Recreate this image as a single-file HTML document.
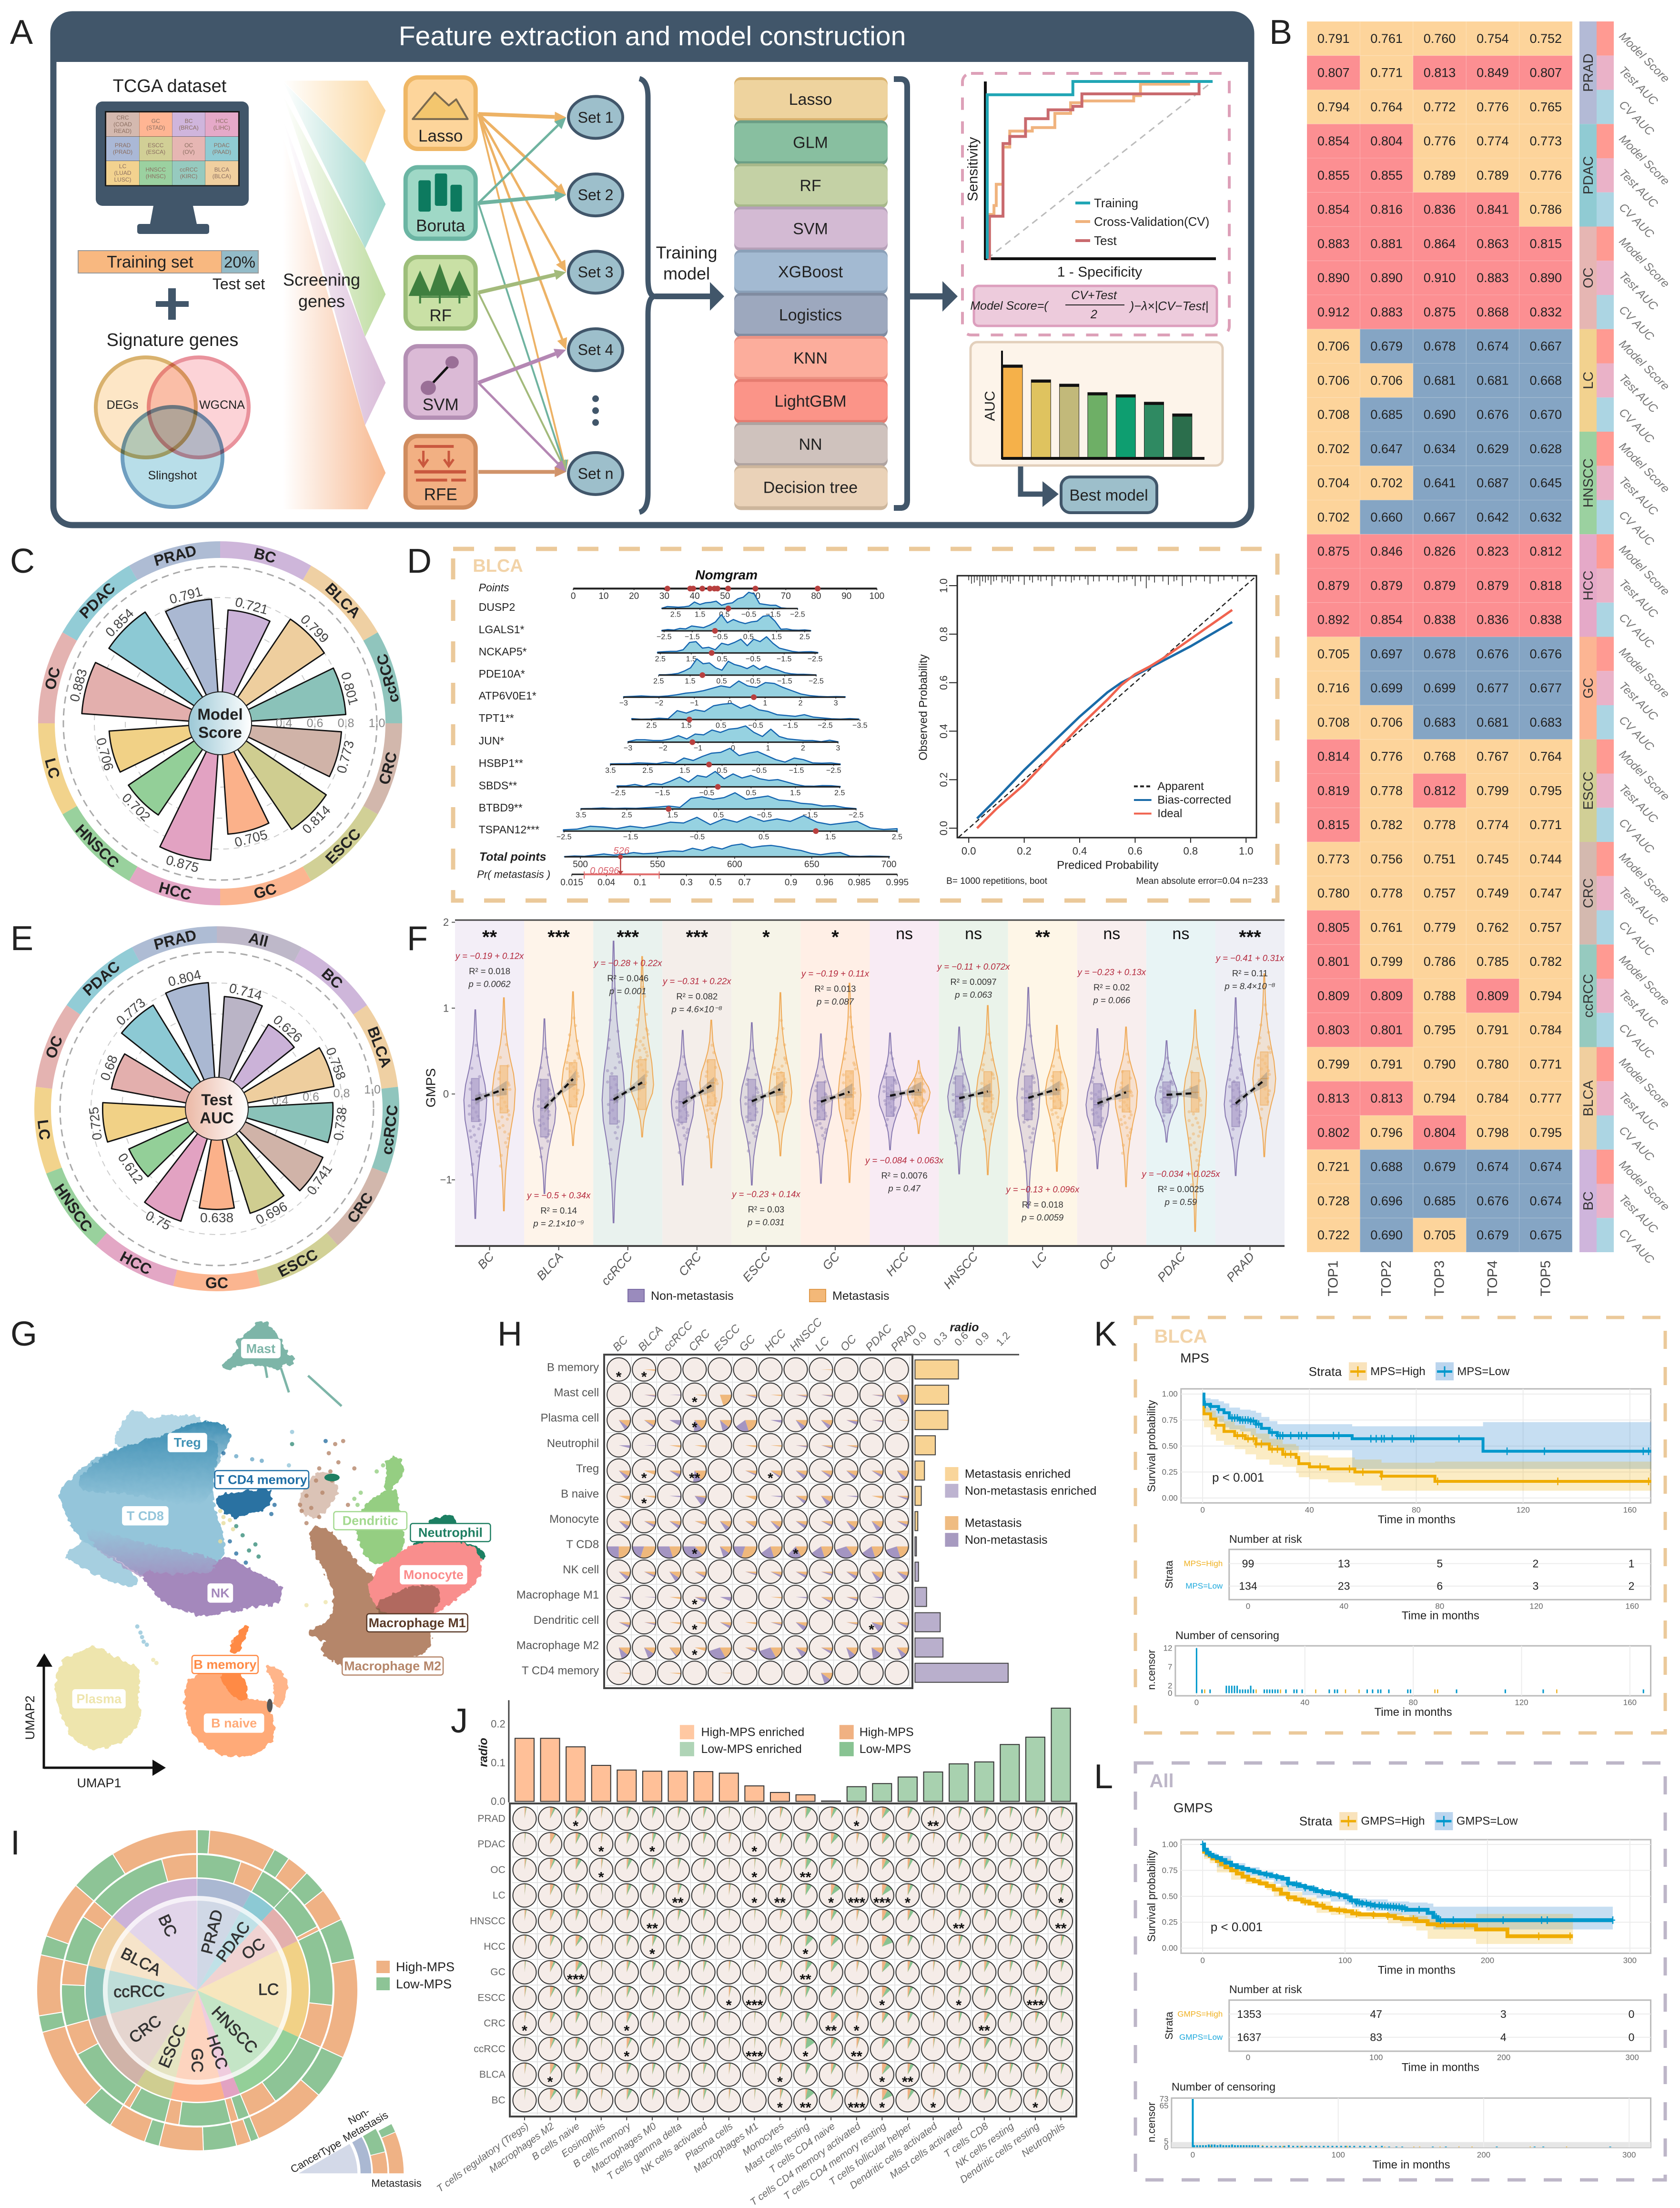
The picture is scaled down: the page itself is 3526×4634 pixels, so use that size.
<!DOCTYPE html>
<html lang="en">
<head>
<meta charset="utf-8">
<title>Feature extraction and model construction figure</title>
<style>
html,body{margin:0;padding:0;background:#fff;}
svg{display:block;}
</style>
</head>
<body>
<svg id="fig" width="3526" height="4634" viewBox="0 0 3526 4634"></svg>
<script>
/* ---------- DATA ---------- */
const heatValues=[[.791,.761,.760,.754,.752],[.807,.771,.813,.849,.807],[.794,.764,.772,.776,.765],[.854,.804,.776,.774,.773],[.855,.855,.789,.789,.776],[.854,.816,.836,.841,.786],[.883,.881,.864,.863,.815],[.890,.890,.910,.883,.890],[.912,.883,.875,.868,.832],[.706,.679,.678,.674,.667],[.706,.706,.681,.681,.668],[.708,.685,.690,.676,.670],[.702,.647,.634,.629,.628],[.704,.702,.641,.687,.645],[.702,.660,.667,.642,.632],[.875,.846,.826,.823,.812],[.879,.879,.879,.879,.818],[.892,.854,.838,.836,.838],[.705,.697,.678,.676,.676],[.716,.699,.699,.677,.677],[.708,.706,.683,.681,.683],[.814,.776,.768,.767,.764],[.819,.778,.812,.799,.795],[.815,.782,.778,.774,.771],[.773,.756,.751,.745,.744],[.780,.778,.757,.749,.747],[.805,.761,.779,.762,.757],[.801,.799,.786,.785,.782],[.809,.809,.788,.809,.794],[.803,.801,.795,.791,.784],[.799,.791,.790,.780,.771],[.813,.813,.794,.784,.777],[.802,.796,.804,.798,.795],[.721,.688,.679,.674,.674],[.728,.696,.685,.676,.674],[.722,.690,.705,.679,.675]];
const heatCancers=['PRAD','PDAC','OC','LC','HNSCC','HCC','GC','ESCC','CRC','ccRCC','BLCA','BC'];
const heatMetrics=['Model Score','Test AUC','CV AUC'];
const heatTops=['TOP1','TOP2','TOP3','TOP4','TOP5'];
const polarCatsC=['BC','BLCA','ccRCC','CRC','ESCC','GC','HCC','HNSCC','LC','OC','PDAC','PRAD'];
const polarValsC=[.721,.799,.801,.773,.814,.705,.875,.702,.706,.883,.854,.791];
const polarCatsE=['All','BC','BLCA','ccRCC','CRC','ESCC','GC','HCC','HNSCC','LC','OC','PDAC','PRAD'];
const polarValsE=[.714,.626,.758,.738,.741,.696,.638,.75,.612,.725,.68,.773,.804];
const polarLabelsE=['0.714','0.626','0.758','0.738','0.741','0.696','0.638','0.75','0.612','0.725','0.68','0.773','0.804'];
const nomLabels=['DUSP2','LGALS1*','NCKAP5*','PDE10A*','ATP6V0E1*','TPT1**','JUN*','HSBP1**','SBDS**','BTBD9**','TSPAN12***'];
const nomTickValues=[[2.5,1.5,.5,-.5,-1.5,-2.5],[-2.5,-1.5,-.5,.5,1.5,2.5],[2.5,1.5,.5,-.5,-1.5,-2.5],[2.5,1.5,.5,-.5,-1.5,-2.5],[-3,-2,-1,0,1,2,3],[2.5,1.5,.5,-.5,-1.5,-2.5,-3.5],[-3,-2,-1,0,1,2,3],[3.5,2.5,1.5,.5,-.5,-1.5,-2.5],[-2.5,-1.5,-.5,.5,1.5,2.5],[3.5,2.5,1.5,.5,-.5,-1.5,-2.5],[-2.5,-1.5,-.5,.5,1.5,2.5]];
const nomPatient=[.34,-.69,.84,1.11,.68,1.41,-1.16,.85,-.25,1.59,1.28];
const nomPointHits=[31,38.5,39.5,42.5,45,46.5,47.5,51,60,80.5];
const nomDensity=[
[.02,.12,.1,.08,.1,.15,.4,.25,.35,.38,.45,.2,.3,.35,.6,.7,1,.9,.3,.25,.2,.2,.04,.01,0,0],
[.03,.08,.05,.15,.12,.3,.25,.2,.35,.55,1,.5,.7,.55,.45,.55,.6,.9,.95,.6,.1,.12,.05,.04,.06,.02],
[.05,.08,.1,.1,.2,.65,.7,.3,.35,.2,.6,.5,.65,.85,.45,.85,.7,1,.6,.3,.2,.1,.05,.07,.08,.03],
[.02,.02,.05,.1,.25,.45,1,.7,.75,.45,.3,.85,.65,.55,.4,.6,.35,.55,.4,.3,.15,.08,.05,.05,.03,.01],
[.03,.05,.08,.05,.04,.08,.15,.25,.3,.4,.55,.7,.6,1,.7,.6,.9,.85,.6,.4,.2,.1,.05,.03,.04,.03],
[.06,.02,.03,.08,.05,.55,.4,.6,.5,.85,.95,1,.7,.9,.6,.5,.3,.25,.2,.3,.15,.1,.05,.03,.06,.03],
[.03,.15,.15,.1,.1,.2,.4,.2,.5,.45,.75,.6,.8,.85,1,.6,.35,.8,.35,.2,.15,.1,.1,.03,.12,.02],
[.04,.05,.05,.1,.08,.05,.15,.08,.4,.25,.5,.7,.75,1,.55,.7,.8,.55,.3,.15,.4,.3,.1,.08,.1,.03],
[.06,.06,.15,.03,.2,.15,.35,.6,.3,.7,.6,.95,.5,.8,.55,.7,.5,.4,.45,.3,.15,.05,.04,.08,.07,.02],
[.02,.03,.06,.03,.05,.04,.08,.12,.18,.1,.65,.75,.6,.7,1,.6,.7,.8,.55,.5,.35,.3,.18,.2,.08,.02],
[.08,.12,.3,.25,.15,.3,.2,.35,.55,.5,.85,.4,.75,.55,.9,.6,.75,.6,.95,.55,.4,.5,.6,.2,.1,.15],
[.06,.02,.2,.22,.1,.3,.25,.3,.45,.4,.55,.35,.65,.45,.85,.7,.65,.8,.55,.4,.15,.35,.1,.03,.03,.05]
];
const totalDensity=[.02,.06,.04,.12,.2,.12,.18,.3,.22,.25,.35,.42,.38,.6,.45,.7,.55,.8,.9,.65,.75,.8,.7,.55,.45,.25,.15,.25,.3,.05,.03,.05,.04,.02];
const totalTicks=[500,550,600,650,700];
const prTicks=[.015,.04,.1,.3,.5,.7,.9,.96,.985,.995];
const pointsTicks=[0,10,20,30,40,50,60,70,80,90,100];
const calX=[.03,.1,.2,.3,.4,.5,.55,.6,.65,.7,.8,.95];
const calBias=[.04,.12,.24,.35,.46,.56,.6,.63,.66,.69,.75,.85];
const calIdeal=[0,.08,.18,.3,.42,.53,.59,.635,.665,.7,.78,.9];
const calRug=[.0,.01,.02,.03,.04,.05,.06,.07,.08,.09,.1,.12,.13,.14,.15,.16,.18,.2,.22,.23,.25,.26,.28,.3,.31,.33,.35,.37,.38,.4,.42,.43,.45,.47,.5,.52,.54,.56,.57,.59,.6,.62,.64,.65,.67,.7,.72,.74,.75,.77,.8,.82,.85,.87,.9,.92,.95,.97,1.0];
const calRugLen=[4,7,6,4,9,5,6,4,8,5,4,6,3,5,7,4,5,8,4,6,4,5,4,9,3,5,5,6,4,4,3,8,5,5,4,4,6,5,4,3,9,5,11,4,6,5,8,5,4,9,6,4,5,7,5,4,3,5,3];
const violinCancers=['BC','BLCA','ccRCC','CRC','ESCC','GC','HCC','HNSCC','LC','OC','PDAC','PRAD'];
const violinN=[[.98,-1.45,.18,-.32],[.875,-1.16,.17,-.5],[1.78,-1.5,.21,-.35],[.74,-1.06,.15,-.33],[.83,-1.06,.17,-.31],[.7,-1.04,.14,-.3],[.71,-.65,.2,-.26],[.78,-.93,.21,-.27],[1.24,-1.33,.21,-.3],[.76,-.87,.12,-.37],[.62,-.56,.14,-.22],[1.12,-.95,.14,-.38]];
const violinM=[[1.12,-1.36,.33,-.22],[1.19,-.6,.365,-.15],[1.6,-.5,.4,-.18],[.86,-.86,.4,-.14],[1.18,-.72,.25,-.21],[1.29,-1.03,.27,-.29],[.39,-.46,.18,-.14],[1.03,-.94,.26,-.21],[.8,-.9,.26,-.17],[.78,-1.08,.27,-.21],[.98,-1.6,.25,-.21],[1.4,-.73,.49,-.13]];
const violinFitStart=[-.065,-.165,-.065,-.11,-.085,-.09,-.02,-.05,-.045,-.11,-.01,-.11];
const violinFitEnd=[.055,.175,.135,.1,.055,.025,.045,.03,.055,.02,.01,.16];
const violinSig=['**','***','***','***','*','*','ns','ns','**','ns','ns','***'];
const violinEq=['y = −0.19 + 0.12x','y = −0.5 + 0.34x','y = −0.28 + 0.22x','y = −0.31 + 0.22x','y = −0.23 + 0.14x','y = −0.19 + 0.11x','y = −0.084 + 0.063x','y = −0.11 + 0.072x','y = −0.13 + 0.096x','y = −0.23 + 0.13x','y = −0.034 + 0.025x','y = −0.41 + 0.31x'];
const violinR2=['R² = 0.018','R² = 0.14','R² = 0.046','R² = 0.082','R² = 0.03','R² = 0.013','R² = 0.0076','R² = 0.0097','R² = 0.018','R² = 0.02','R² = 0.0025','R² = 0.11'];
const violinP=['p = 0.0062','p = 2.1×10⁻⁹','p = 0.001','p = 4.6×10⁻⁸','p = 0.031','p = 0.087','p = 0.47','p = 0.063','p = 0.0059','p = 0.066','p = 0.59','p = 8.4×10⁻⁸'];
const violinEqValue=[1.61,-1.18,1.525,1.315,-1.165,1.405,-.77,1.485,-1.11,1.42,-.93,1.585];
const violinShape=[.03,.08,.14,.3,.55,.85,1,.9,.6,.35,.17,.08,.03];
const violinDotFrac=[.22,.35,.41,.47,.53,.58,.63,.7,.28,.45,.5,.55,.6,.66,.74,.38,.43,.49,.52,.57,.61,.68,.32,.46,.51,.56,.64,.79,.17,.4];
const violinDotOff=[.3,-.5,.6,-.2,.5,-.6,.1,.4,-.4,.2,-.7,.6,-.1,.5,-.3,-.6,.7,.1,-.3,.4,-.5,.2,.5,-.7,.3,-.2,.6,-.4,.1,.5];
const umapClusterNames=['t-cd8-lower-lobe','t-cd8-upper-lobe','t-cd8','treg','nk-fade','nk','t-cd4-memory','mast','dendritic-top','dendritic','neutrophil-top','neutrophil-strip','macrophage-m2','monocyte','macrophage-m1','macrophage-scatter','plasma','b-naive','b-memory','b-memory-arc','b-memory-strand'];
const umapClusterFills=['#A6CFE0','#B2D6E5','#94C5DA','url(#tregFade)','url(#nkFade)','#A488BC','#2C72A2','#7DB5A8','#95CE82','#95CE82','#1F7F62','#1F7F62','#B5866A','#F98E8D','#6B4632','#C49C85','#EEE5AD','#FFAA78','#FF8A45','#FFB58A','#FF8A45'];
const umapOutlines=[
[[210,800],[250,785],[270,750],[320,800],[400,860],[430,895],[390,900],[310,865],[240,825]],
[[360,430],[385,385],[415,335],[445,340],[455,368],[560,350],[640,360],[560,400],[470,430],[400,450]],
[[190,600],[215,570],[250,535],[330,480],[430,440],[560,420],[690,440],[665,500],[660,640],[680,700],[700,780],[670,870],[620,885],[530,885],[440,860],[370,810],[300,770],[240,730],[210,660]],
[[235,560],[330,470],[440,430],[540,400],[620,362],[690,368],[730,405],[705,460],[675,520],[660,640],[560,640],[400,600],[260,600]],
[[250,700],[450,770],[660,810],[690,830],[680,885],[520,890],[440,880],[300,790]],
[[440,860],[520,880],[620,870],[660,880],[690,825],[720,822],[780,860],[870,905],[880,930],[860,960],[800,965],[700,985],[640,1003],[560,975],[500,940]],
[[680,620],[720,610],[780,605],[840,585],[845,640],[770,660],[740,680],[695,650]],
[[810,40],[835,52],[870,90],[880,130],[925,175],[885,168],[870,190],[840,180],[800,170],[750,170],[690,195],[740,150],[760,110],[740,105],[790,80]],
[[1210,490],[1260,495],[1250,560],[1200,590],[1225,540]],
[[1240,580],[1245,690],[1265,790],[1170,845],[1115,730],[1140,660],[1180,620]],
[[1350,698],[1410,680],[1422,700],[1400,712],[1350,708]],
[[1270,772],[1400,758],[1490,780],[1515,812],[1495,800],[1400,778]],
[[985,710],[1040,740],[1085,800],[1130,860],[1170,880],[1180,1000],[1340,1010],[1345,1130],[1200,1140],[1040,1158],[1010,1110],[1040,1080],[960,1065],[1040,1030],[1060,950],[1030,860],[975,770]],
[[1160,880],[1260,800],[1300,775],[1400,768],[1480,780],[1505,830],[1490,890],[1440,930],[1400,965],[1340,1000],[1230,1000],[1170,960]],
[[1170,970],[1280,920],[1360,905],[1375,950],[1340,1005],[1230,1010]],
[[940,620],[1000,520],[1060,590],[1040,620],[990,680],[950,660]],
[[290,1110],[330,1130],[380,1160],[440,1190],[420,1260],[435,1340],[400,1400],[340,1430],[280,1435],[230,1400],[200,1330],[175,1240],[200,1150],[250,1135]],
[[590,1210],[700,1190],[760,1290],[830,1290],[850,1350],[850,1420],[790,1455],[700,1460],[620,1410],[585,1320]],
[[690,1190],[750,1190],[775,1290],[720,1250]],
[[830,1170],[895,1200],[880,1300],[860,1290],[870,1210]],
[[765,1045],[770,1050],[738,1125],[725,1120]]
];
const umapDotsX=[1050,1030,1060,1000,990,1040,1010,960,940,975,1000,960,1075,1110,1035,945,1090,740,790,820,700,740,760,720,780,740,810,700,690,770,800,860,850,915,915,905,1020,690,700,720,730,1180,1200,1110,1130,1120,440,450,430,445,460,480,490,730,745,960,1020];
const umapDotsY=[440,470,500,520,560,560,600,610,640,650,680,700,430,520,530,660,640,480,490,495,470,710,740,760,790,800,810,700,760,830,770,640,670,400,440,510,430,660,680,690,720,530,510,620,600,640,1060,1090,1040,1075,1100,1150,1160,1090,1110,970,960];
const umapDotsColor=['#B5866A','#B5866A','#B5866A','#B5866A','#B5866A','#B5866A','#B5866A','#B5866A','#B5866A','#B5866A','#B5866A','#B5866A','#B5866A','#B5866A','#B5866A','#B5866A','#B5866A','#6CA9C8','#6CA9C8','#6CA9C8','#2C72A2','#3A8F7C','#3A8F7C','#2C72A2','#3A8F7C','#2C72A2','#3A8F7C','#E6DC9C','#E6DC9C','#2C72A2','#3A8F7C','#2C72A2','#2C72A2','#94C5DA','#3A8F7C','#94C5DA','#2C72A2','#E6DC9C','#E6DC9C','#E6DC9C','#E6DC9C','#95CE82','#95CE82','#95CE82','#95CE82','#95CE82','#94C5DA','#94C5DA','#94C5DA','#94C5DA','#94C5DA','#EEE5AD','#EEE5AD','#FF8A45','#FF8A45','#EEE5AD','#EEE5AD'];
const umapLabels=['Mast','Treg','T CD4 memory','T CD8','NK','Dendritic','Neutrophil','Monocyte','Macrophage M1','Macrophage M2','B memory','B naive','Plasma'];
const hRows=['B memory','Mast cell','Plasma cell','Neutrophil','Treg','B naive','Monocyte','T CD8','NK cell','Macrophage M1','Dendritic cell','Macrophage M2','T CD4 memory'];
const hCols=['BC','BLCA','ccRCC','CRC','ESCC','GC','HCC','HNSCC','LC','OC','PDAC','PRAD'];
const hMeta=[[0,.02,0,0,0,0,0,0,.01,0,0,0],[0,.01,0,.02,.2,.03,.02,.02,.01,0,.01,.12],[.1,.08,0,.14,.11,.2,0,.09,.08,.02,.01,.01],[0,0,.03,.03,0,.03,.02,.01,.03,.03,0,0],[.08,.06,.05,.15,0,.05,.08,.07,.07,.08,.06,.1],[.06,.03,0,.03,0,.06,0,.07,.09,0,.04,.03],[.07,.05,.06,.05,.09,.08,.09,.06,.05,.1,.1,.05],[.25,.3,.2,.13,.1,.3,.2,.17,.2,.15,.2,.2],[.07,.05,.09,.06,0,.03,.05,.05,.03,.06,.1,.06],[0,0,.03,.03,0,0,.02,0,.06,.03,0,0],[.04,.02,.03,.03,.05,.03,.03,.06,0,.03,.05,.05],[.11,.09,.13,.05,.17,.05,.17,.07,.05,.11,.09,.1],[.02,0,.02,0,.01,0,0,0,.1,0,0,0]];
const hNon=[[0,0,0,0,0,0,0,0,0,0,0,0],[0,.02,.01,0,0,.02,0,.02,.02,0,.02,.06],[.06,.03,.08,.12,.1,.2,.04,.07,.06,.05,.02,0],[.04,.01,0,0,0,0,0,.02,.02,.01,0,0],[.06,0,.05,.12,0,.02,.03,.06,.04,.05,.04,.06],[0,0,.02,.12,0,0,.02,.05,.07,.02,0,.03],[.06,.04,.05,.01,.07,.02,.05,.05,.03,.06,.07,.04],[.25,.2,.3,.37,.1,.2,.2,.2,.2,.3,.2,.25],[.06,.03,.07,.03,0,.02,.03,.04,.03,.05,.07,.07],[.04,.01,0,.05,.06,0,0,.02,.03,.03,.02,0],[.04,.02,0,0,.04,0,.02,.07,0,.01,.1,.04],[.1,.1,.02,0,.28,.02,.28,.09,.04,.09,.14,.08],[0,0,0,0,0,0,0,0,.1,0,0,0]];
const hStars=[['*','*','','','','','','','','','',''],['','','','*','','','','','','','',''],['','','','*','','','','','','','',''],['','','','','','','','','','','',''],['','*','','**','','','*','','','','',''],['','*','','','','','','','','','',''],['','','','','','','','','','','',''],['','','','*','','','','*','','','',''],['','','','','','','','','','','',''],['','','','*','','','','','','','',''],['','','','*','','','','','','','*',''],['','','','*','','','','','','','',''],['','','','','','','','','','','','']];
const hRatio=[.62,.48,.47,.29,.135,.09,.04,.02,.05,.165,.36,.4,1.33];
const hRatioTicks=[0,.3,.6,.9,1.2];
const jCols=['T cells regulatory (Tregs)','Macrophages M2','B cells naive','Eosinophils','B cells memory','Macrophages M0','T cells gamma delta','NK cells activated','Plasma cells','Macrophages M1','Monocytes','Mast cells resting','T cells CD4 naive','T cells CD4 memory activated','T cells CD4 memory resting','T cells follicular helper','Dendritic cells activated','Mast cells activated','T cells CD8','NK cells resting','Dendritic cells resting','Neutrophils'];
const jRows=['PRAD','PDAC','OC','LC','HNSCC','HCC','GC','ESCC','CRC','ccRCC','BLCA','BC'];
const jRatio=[.163,.163,.141,.093,.081,.078,.078,.077,.073,.04,.023,.017,.001,.038,.046,.063,.076,.097,.102,.147,.166,.241];
const jHigh=[[2,5,5,2,3,2,2,2,1,1,3,2,4,3,6,4,2,2,3,2,3,2],[1,7,4,2,3,2,2,2,3,1,3,2,5,3,6,4,2,3,3,2,3,2],[2,5,4,2,3,2,2,2,1,1,3,2,4,2,6,4,2,3,3,2,3,2],[1,5,3,1,3,2,3,2,2,1,3,2,6,3,7,4,2,2,3,2,3,2],[2,5,3,2,3,2,2,2,1,1,3,2,4,3,7,4,2,3,3,2,3,2],[2,4,6,2,3,3,2,2,1,1,3,3,6,3,8,4,2,3,3,2,3,2],[1,5,5,1,3,2,2,2,2,1,3,3,5,3,6,4,2,3,4,2,3,2],[2,5,3,1,3,2,2,2,3,1,3,2,4,2,7,4,2,2,3,2,3,1],[2,5,3,1,4,2,2,2,1,1,3,2,7,3,5,4,2,2,5,2,3,2],[1,5,3,1,5,3,2,2,1,1,3,2,4,4,5,4,2,2,4,2,3,1],[2,6,3,2,3,2,2,2,2,1,3,2,4,2,7,4,2,3,3,2,3,2],[1,6,3,2,3,2,2,2,2,1,3,3,4,3,8,5,3,2,3,2,3,2]];
const jLow=[[1,3,5,1,4,4,3,3,1,1,2,7,5,1,6,4,1,3,4,3,3,3],[1,2,4,1,4,4,3,3,1,1,3,6,7,1,6,4,1,3,4,3,3,3],[1,3,5,1,5,4,3,3,1,1,2,7,5,1,6,4,1,3,5,3,3,3],[1,2,3,1,4,4,3,3,1,1,2,7,9,1,9,4,1,3,4,3,3,3],[1,2,3,1,3,3,3,3,1,1,2,6,5,1,7,5,1,3,3,3,3,3],[1,3,5,1,4,4,4,3,1,1,2,9,7,1,11,4,1,3,3,3,3,3],[1,3,6,1,3,4,3,3,1,1,2,7,6,1,7,4,1,3,4,3,3,3],[1,3,5,1,4,3,3,3,1,1,3,5,6,1,6,4,1,3,4,3,3,3],[1,3,4,1,4,3,3,3,1,1,3,5,5,1,5,4,1,3,4,3,3,3],[1,3,4,1,3,3,3,3,1,1,2,13,5,1,6,4,1,3,5,3,3,3],[1,4,5,1,4,3,3,3,1,1,2,6,4,1,6,5,1,3,3,3,3,3],[1,4,5,1,5,3,3,3,1,1,2,11,5,1,10,5,1,3,4,3,3,3]];
const jStars=[[2,'*'],[13,'*'],[16,'**'],[3,'*'],[5,'*'],[9,'*'],[3,'*'],[9,'*'],[11,'**'],[6,'**'],[9,'*'],[10,'**'],[12,'*'],[13,'***'],[14,'***'],[15,'*'],[21,'*'],[5,'**'],[17,'**'],[21,'**'],[5,'*'],[11,'*'],[2,'***'],[11,'**'],[8,'*'],[9,'***'],[14,'*'],[17,'*'],[20,'***'],[0,'*'],[4,'*'],[12,'**'],[13,'*'],[18,'**'],[4,'*'],[9,'***'],[11,'*'],[13,'**'],[1,'*'],[10,'*'],[14,'*'],[15,'**'],[10,'*'],[11,'**'],[13,'***'],[14,'*'],[16,'*'],[20,'*']];
const jStarRow=[0,0,0,1,1,1,2,2,2,3,3,3,3,3,3,3,3,4,4,4,5,5,6,6,7,7,7,7,7,8,8,8,8,8,9,9,9,9,10,10,10,10,11,11,11,11,11,11];
const iCancers=['PRAD','PDAC','OC','LC','HNSCC','HCC','GC','ESCC','CRC','ccRCC','BLCA','BC'];
const iShare=[28.8,14.2,20.8,51,42.7,8.3,28,19,42,28,28,49];
const iMiddleLowShare=[18.8,14.2,19,32.6,30,5,22,16,29,17.6,20,34];
const iOuterLowShare=[4.5,6,8.6,15,16,3,12,5.4,11.6,6,7,17.4];
const kmKLowT=[0,.5,3,6,8,10,14,18,20,22,25,28,56,105,168];
const kmKLowS=[1,.9,.88,.85,.82,.77,.75,.74,.71,.67,.63,.6,.57,.45,.45];
const kmKLowU=[1,.96,.95,.93,.91,.87,.85,.84,.82,.78,.74,.71,.69,.73,.73];
const kmKLowL=[1,.84,.81,.77,.73,.68,.66,.64,.6,.57,.53,.5,.46,.28,.28];
const kmKHighT=[0,.5,3,5,8,12,16,20,25,30,35,36,40,47,57,67,87,168];
const kmKHighS=[.9,.81,.76,.7,.64,.6,.57,.52,.47,.42,.39,.33,.3,.28,.25,.21,.16,.16];
const kmKHighU=[.92,.87,.84,.79,.74,.7,.67,.62,.57,.52,.5,.44,.41,.39,.37,.34,.35,.35];
const kmKHighL=[.88,.74,.68,.61,.55,.51,.47,.42,.37,.32,.3,.24,.2,.18,.15,.12,.07,.07];
const kmKLowCens=[1,3,6,11,12,13,14,15,16,17,18,19,20,21,26,28,29,30,33,36,37,39,49,51,63,65,67,68,71,78,79,96,114,128,165,167];
const kmKHighCens=[5,13,15,17,19,20,22,26,28,31,33,44,55,60,67,88,133,167];
const kmLLowT=[0,1,3,5,7,10,13,16,20,24,28,32,36,40,44,48,52,56,60,64,68,72,76,80,84,88,92,96,100,104,108,112,116,120,125,130,135,140,143,150,158,162,165,288];
const kmLLowS=[1,.95,.92,.9,.885,.87,.85,.825,.8,.78,.765,.75,.735,.72,.71,.695,.685,.67,.625,.615,.6,.585,.57,.55,.54,.53,.52,.51,.49,.46,.44,.43,.42,.41,.405,.4,.395,.385,.37,.37,.34,.3,.27,.27];
const kmLLowCiT=[0,1,5,10,20,30,40,50,55,60,70,80,90,100,105,115,130,145,158,162,165,288];
const kmLLowU=[1,.96,.92,.89,.82,.78,.74,.71,.67,.64,.6,.56,.53,.51,.48,.47,.45,.44,.43,.4,.4,.4];
const kmLLowL=[1,.94,.88,.85,.78,.74,.7,.66,.62,.59,.55,.51,.48,.45,.42,.39,.36,.32,.27,.21,.18,.18];
const kmLHighT=[0,1,3,5,7,10,13,16,20,24,28,32,36,40,45,50,55,60,65,70,75,80,85,90,95,100,105,110,120,130,135,140,150,158,165,192,214,260];
const kmLHighS=[.95,.93,.91,.89,.865,.84,.81,.78,.75,.72,.69,.66,.645,.625,.6,.565,.525,.49,.47,.45,.43,.41,.39,.37,.365,.355,.335,.325,.32,.31,.29,.28,.26,.23,.22,.18,.115,.115];
const kmLHighCiT=[0,1,5,10,20,30,40,45,50,60,70,80,90,100,110,130,140,150,158,192,214,260];
const kmLHighU=[.97,.95,.9,.86,.77,.7,.66,.64,.6,.54,.49,.45,.4,.38,.35,.34,.32,.31,.28,.33,.33,.33];
const kmLHighL=[.93,.91,.86,.82,.73,.66,.62,.6,.56,.5,.45,.41,.34,.32,.29,.28,.24,.21,.17,.09,.04,.04];
const kmLLowCens=[0,45,52,60,66,72,78,84,90,96,102,105,108,110,112,115,118,121,124,126,128,130,132,134,136,138,140,142,152,164,167,176,211,238,242,288];
const kmLHighCens=[60,72,84,96,108,120,130,148,170,184,236,258];
const censKLowT=[0,2,5,11,12,13,14,15,16,17,18,19,20,21,25,26,27,28,29,30,33,36,37,39,49,51,52,63,65,67,68,71,78,79,96,114,128,165];
const censKLowN=[12,1,1,2,2,2,2,2,1,1,1,1,2,1,1,1,1,1,1,1,1,1,1,1,1,1,1,1,1,1,1,1,1,1,1,1,1,1];
const censKHighT=[3,17,18,19,20,21,22,26,28,31,44,55,60,88,89,133];
const censKHighN=[1,1,1,1,1,1,1,1,1,1,1,1,1,1,1,1];
const censLLowT=[0,1,3,5,7,9,11,13,15,17,19,21,23,25,27,29,31,33,35,37,39,41,43,45,48,51,54,57,60,63,66,69,72,75,78,81,84,87,90,93,96,99,102,105,108,111,115,118,122,126,130,135,140,144,165,174,209,235,241,287];
const censLLowN=[73,3,3,3,3,3,4,4,4,3,4,3,3,3,4,3,3,3,3,3,3,3,3,3,2,2,2,2,2,2,3,2,2,2,2,2,2,2,2,2,2,2,2,2,2,2,2,2,2,2,2,1,1,1,1,1,1,1,1,1];
const censLHighT=[7,12,25,35,48,62,74,90,106,118,132,152,156,170,183,192,232,257];
const censLHighN=[3,2,2,2,3,2,2,2,2,1,1,1,1,1,1,1,1,1];
const rocTrainX=[0,0,.38,.38,1],rocTrainY=[0,.925,.925,1,1];
const rocCvX=[0,.01,.03,.04,.07,.1,.2,.27,.3,.37,.42,.65,.68,.9],rocCvY=[0,.25,.3,.42,.63,.72,.74,.74,.82,.88,.89,.92,.985,.985];
const rocTestX=[0,.01,.06,.07,.1,.17,.27,.38,.42,.6,.93,.94],rocTestY=[0,.24,.24,.65,.69,.79,.84,.86,.93,.93,.93,1];
const aucBars=[.88,.74,.7,.62,.6,.53,.42];

/* ---------- HELPERS ---------- */
const svg=document.getElementById('fig');
const NS=svg.namespaceURI;
const FF='"Liberation Sans",Arial,sans-serif';
function mk(tag,attrs,parent,name,inter){
  const e=document.createElementNS(NS,tag);
  for(const k in attrs)e.setAttribute(k,attrs[k]);
  
  
  (parent||svg).appendChild(e);
  return e;
}
function group(name){return mk('g',{},svg,name,false);}
function txt(s,x,y,size,o,parent,name){
  o=o||{};
  const a={x:x,y:y,'font-size':size,'font-family':FF,fill:o.fill||'#222','text-anchor':o.anchor||'middle','dominant-baseline':'central'};
  if(o.rot!==undefined)a.transform='rotate('+o.rot+' '+x+' '+y+')';
  if(o.bold)a['font-weight']='bold';
  if(o.italic)a['font-style']='italic';
  if(o.op)a.opacity=o.op;
  const t=mk('text',a,parent,name||'label',false);
  t.textContent=s;
  return t;
}
function rect(x,y,w,h,fill,parent,name,o){
  o=o||{};
  const a={x:x,y:y,width:w,height:h,fill:fill};
  if(o.rx!==undefined)a.rx=o.rx;
  if(o.stroke){a.stroke=o.stroke;a['stroke-width']=o.sw||1;}
  if(o.op)a.opacity=o.op;
  return mk('rect',a,parent,name||'box',false);
}
function line(x1,y1,x2,y2,stroke,w,parent,name,dash){
  const a={x1:x1,y1:y1,x2:x2,y2:y2,stroke:stroke,'stroke-width':w};
  if(dash)a['stroke-dasharray']=dash;
  return mk('line',a,parent,name||'line',false);
}
function path(d,fill,stroke,w,parent,name,o){
  o=o||{};
  const a={d:d,fill:fill};
  if(stroke){a.stroke=stroke;a['stroke-width']=w;}
  if(o.op)a.opacity=o.op;
  if(o.fop)a['fill-opacity']=o.fop;
  if(o.dash)a['stroke-dasharray']=o.dash;
  if(o.join)a['stroke-linejoin']=o.join;
  return mk('path',a,parent,name||'shape',false);
}
function pol(cx,cy,r,deg){const t=(deg-90)*Math.PI/180;return [cx+r*Math.cos(t),cy+r*Math.sin(t)];}
function wedgeD(cx,cy,r0,r1,a0,a1){
  const large=(a1-a0)>180?1:0;
  const p1=pol(cx,cy,r1,a0),p2=pol(cx,cy,r1,a1);
  if(r0<=0)return 'M'+cx+' '+cy+'L'+p1[0]+' '+p1[1]+'A'+r1+' '+r1+' 0 '+large+' 1 '+p2[0]+' '+p2[1]+'Z';
  const p3=pol(cx,cy,r0,a1),p4=pol(cx,cy,r0,a0);
  return 'M'+p1[0]+' '+p1[1]+'A'+r1+' '+r1+' 0 '+large+' 1 '+p2[0]+' '+p2[1]+'L'+p3[0]+' '+p3[1]+'A'+r0+' '+r0+' 0 '+large+' 0 '+p4[0]+' '+p4[1]+'Z';
}
function circle(cx,cy,r,fill,parent,name,o){
  o=o||{};
  const a={cx:cx,cy:cy,r:r,fill:fill};
  if(o.stroke){a.stroke=o.stroke;a['stroke-width']=o.sw||1;}
  if(o.dash)a['stroke-dasharray']=o.dash;
  if(o.op)a.opacity=o.op;
  return mk('circle',a,parent,name||'dot',false);
}
const defs=mk('defs',{},svg,'gradient-definitions',false);
function hGrad(id,c1,o1,c2,o2,vertical){
  const g=mk('linearGradient',{id:id,x1:0,y1:0,x2:vertical?0:1,y2:vertical?1:0},defs,'gradient',false);
  mk('stop',{offset:'0%','stop-color':c1,'stop-opacity':o1},g,'gradient-stop',false);
  mk('stop',{offset:'100%','stop-color':c2,'stop-opacity':o2},g,'gradient-stop',false);
  return g;
}
const cancerColor={BC:'#CBB2D8',BLCA:'#EECE9E',ccRCC:'#8AC2B9',CRC:'#D0B3A8',ESCC:'#CFCD90',GC:'#FBB18A',HCC:'#E2A2C2',HNSCC:'#93CF98',LC:'#F1D186',OC:'#E3AFAD',PDAC:'#8CC9D4',PRAD:'#AAB8D2',All:'#BAB4C6'};

/* ---------- PANEL LETTERS ---------- */
const lettersG=group('panel-letters');
[['A',45,68],['B',2688,68],['C',47,1178],['D',880,1178],['E',46,1970],['F',876,1970],['G',50,2800],['H',1070,2800],['I',32,3868],['J',964,3612],['K',2320,2800],['L',2316,3729]].forEach(function(d){
  txt(d[0],d[1],d[2],72,{},lettersG,'panel-letter');
});

/* ---------- PANEL A ---------- */
(function(){
  const g=group('panel-a-workflow');
  const X=z=>z*1.722,Y=z=>z*.714;
  const dark='#41566A';
  rect(112,30,2514,1072,'#fff',g,'workflow-frame',{rx:40,stroke:dark,sw:13});
  path('M106 130V67a40 40 0 0 1 40-40H2592a40 40 0 0 1 40 40V130Z',dark,null,0,g,'workflow-header');
  txt('Feature extraction and model construction',1369,76,57,{fill:'#fff'},g,'workflow-title');
  txt('TCGA dataset',356,181,38,{},g,'tcga-title');
  rect(201,213,321,219,dark,g,'monitor-body',{rx:14});
  rect(220,233,283,158,'#1a1a1a',g,'monitor-screen');
  const cells=[['CRC (COAD READ)','#D4B9AF'],['GC (STAD)','#FFB593'],['BC (BRCA)','#CFB5DC'],['HCC (LIHC)','#E5A9C8'],['PRAD (PRAD)','#AAB8D6'],['ESCC (ESCA)','#D1CF96'],['OC (OV)','#E6B6B3'],['PDAC (PAAD)','#90CBD3'],['LC (LUAD LUSC)','#F2D28F'],['HNSCC (HNSC)','#9BD1A0'],['ccRCC (KIRC)','#96CABF'],['BLCA (BLCA)','#F0CF9F']];
  cells.forEach(function(c,i){
    const cx=223+(i%4)*69.3,cy=236+Math.floor(i/4)*51;
    rect(cx,cy,69,50.5,c[1],g,'screen-cell');
    const parts=c[0].split(' ');
    parts.forEach(function(p,j){txt(p,cx+34.5,cy+25+(j-(parts.length-1)/2)*14,12,{fill:'#8a6d60'},g,'screen-cell-label');});
  });
  path('M322 432H405L413 470H315Z',dark,null,0,g,'monitor-neck');
  rect(288,470,151,21,dark,g,'monitor-base',{rx:5});
  rect(164,526,301,47,'#F8B880',g,'training-set-bar',{stroke:'#999',sw:2});
  rect(465,526,77,47,'#93BBC8',g,'test-set-bar',{stroke:'#999',sw:2});
  txt('Training set',315,550,35,{},g,'training-set-label');
  txt('20%',503,550,33,{},g,'test-share-label');
  txt('Test set',501,596,32,{},g,'test-set-label');
  rect(353,605,16,66,dark,g,'plus-vertical');
  rect(327,632,69,12,dark,g,'plus-horizontal');
  txt('Signature genes',362,714,38,{},g,'signature-genes-title');
  [[306,855,'#FDE6C6','#D9B26E','venn-degs'],[417,855,'#FCD3D7','#E9929C','venn-wgcna'],[362,959,'#B8DEE9','#6E9EC0','venn-slingshot']].forEach(function(v){
    const c=circle(v[0],v[1],105,v[2],g,v[4],{stroke:v[3],sw:8});
    c.setAttribute('style','mix-blend-mode:multiply');
  });
  txt('DEGs',257,850,25,{},g,'venn-degs-label');
  txt('WGCNA',466,850,25,{},g,'venn-wgcna-label');
  txt('Slingshot',362,998,25,{},g,'venn-slingshot-label');
  const fans=[
   ['#FBD69D',[[345,237],[448,237],[470,325],[445,480]]],
   ['#9DD6CC',[[345,240],[445,480],[470,600],[445,730]]],
   ['#BEDCA0',[[345,280],[445,730],[470,865],[445,990]]],
   ['#D9BBD8',[[345,350],[445,990],[470,1125],[445,1250]]],
   ['#F7B88F',[[345,400],[445,1250],[470,1390],[448,1497],[345,1497]]]];
  fans.forEach(function(f,i){
    hGrad('fan'+i,f[0],0,f[0],1);
    mk('polygon',{points:f[1].map(p=>X(p[0])+','+Y(p[1])).join(' '),fill:'url(#fan'+i+')'},g,'screening-funnel-arrow',false);
  });
  txt('Screening',675,587,36,{},g,'screening-label');
  txt('genes',675,632,36,{},g,'genes-label');
  const boxes=[['Lasso',222,'#FDD59B','#EFB765'],['Boruta',486,'#9FD8C6','#6BB5A3'],['RF',750,'#C9E0A5','#9DBE7A'],['SVM',1012,'#DBBAD6','#B48FB4'],['RFE',1276,'#F2B083','#D08C5E']];
  const setY=[345,573,800,1028,1392];
  const links=[[335,0,1,'#EDB265',8],[335,1,0,'#EDB265',6],[335,2,0,'#EDB265',5],[335,3,0,'#EDB265',5],[335,4,0,'#EDB265',4],[597,0,0,'#6FB3A0',5],[597,1,1,'#6FB3A0',8],[597,4,0,'#6FB3A0',4],[860,2,1,'#A3BA7B',8],[860,4,0,'#A3BA7B',4],[1125,3,1,'#B487B3',8],[1125,4,0,'#B487B3',5],[1387,4,1,'#D0936A',8]];
  links.forEach(function(l){
    const x1=X(583),y1=Y(l[0]),x2=X(690),y2=Y(setY[l[1]]+(l[1]===4?-5:0));
    const a=Math.atan2(y2-y1,x2-x1),hl=24,hw=11;
    line(x1,y1,x2-hl*Math.cos(a),y2-hl*Math.sin(a),l[3],l[4],g,'method-to-set-arrow');
    const bx=x2-hl*Math.cos(a),by=y2-hl*Math.sin(a),nx=-Math.sin(a)*hw,ny=Math.cos(a)*hw;
    mk('polygon',{points:x2+','+y2+' '+(bx+nx)+','+(by+ny)+' '+(bx-nx)+','+(by-ny),fill:l[3]},g,'method-to-set-arrowhead',false);
  });
  boxes.forEach(function(b){
    rect(X(492)+4,Y(b[1])+4,155-8,158-8,b[2],g,'method-box-'+b[0].toLowerCase(),{rx:26,stroke:b[3],sw:9});
    txt(b[0],X(537),Y(b[1]+178),35,{},g,'method-label-'+b[0].toLowerCase());
  });
  path('M'+X(503)+' '+Y(350)+'L'+X(530)+' '+Y(272)+'L'+X(547)+' '+Y(310)+'L'+X(556)+' '+Y(292)+'L'+X(570)+' '+Y(350)+'Z','#F3C66E','#7a6a50',4,g,'lasso-icon',{join:'round'});
  [[510,530,15,92],[530,510,15,95],[549,543,14,79]].forEach(function(b){rect(X(b[0]),Y(b[1]),X(b[2]),Y(b[3]),'#0D7A5F',g,'boruta-icon-bar',{rx:4});});
  [512,536,560].forEach(function(c,i){
    const top=i===1?775:795;
    path('M'+X(c)+' '+Y(top)+'L'+X(c+14)+' '+Y(870)+'H'+X(c-14)+'Z','#3F7F3F',null,0,g,'rf-icon-tree');
    line(X(c),Y(860),X(c),Y(892),'#3F7F3F',4,g,'rf-icon-trunk');
  });
  line(X(513),Y(873),X(570),Y(873),'#3F7F3F',3,g,'rf-icon-ground');
  line(X(551),Y(1065),X(522),Y(1140),'#111',5,g,'svm-icon-line');
  mk('ellipse',{cx:X(551),cy:Y(1065),rx:14,ry:13,fill:'#9A6F97'},g,'svm-icon-point',false);
  mk('ellipse',{cx:X(522),cy:Y(1140),rx:16,ry:15,fill:'#9A6F97'},g,'svm-icon-point',false);
  rect(X(505),Y(1308),X(48),6,'#C9583E',g,'rfe-icon-line');
  rect(X(505),Y(1382),X(63),7,'#C9583E',g,'rfe-icon-line');
  rect(X(507),Y(1407),X(38),6,'#C9583E',g,'rfe-icon-line');
  rect(X(550),Y(1407),X(18),6,'#C9583E',g,'rfe-icon-line');
  [516,547].forEach(function(c){path('M'+(X(c)-10)+' '+Y(1350)+'L'+X(c)+' '+Y(1370)+'L'+(X(c)+10)+' '+Y(1350)+'M'+X(c)+' '+Y(1325)+'V'+Y(1368),'none','#C9583E',5,g,'rfe-icon-arrow');});
  ['Set 1','Set 2','Set 3','Set 4','Set n'].forEach(function(s,i){
    mk('ellipse',{cx:1250,cy:Y(setY[i]),rx:57,ry:44,fill:'#9DBFCB',stroke:dark,'stroke-width':6},g,'set-node',false);
    txt(s,1250,Y(setY[i]),32,{},g,'set-label');
  });
  [1172,1207,1242].forEach(function(y){circle(1250,Y(y),7,dark,g,'ellipsis-dot');});
  path('M1342 165Q1360 170 1360 205V585Q1360 622 1375 622Q1360 622 1360 660V1035Q1360 1070 1342 1075','none',dark,11,g,'training-brace');
  line(1375,622,1495,622,dark,12,g,'training-arrow-shaft');
  path('M1490 592L1520 622L1490 652Z',dark,null,0,g,'training-arrow-head');
  txt('Training',1441,530,36,{},g,'training-label');
  txt('model',1441,574,36,{},g,'model-label');
  const models=[['Lasso','#EED39E','#D9B26E'],['GLM','#88BFA0','#6B9E85'],['RF','#C4D1A5','#A7B88A'],['SVM','#D3BAD3','#B5A0B8'],['XGBoost','#A3BAD2','#8AA0B8'],['Logistics','#9DA8BE','#808BA0'],['KNN','#FCAD9C','#EC9384'],['LightGBM','#FB9488','#E67C70'],['NN','#CFC2BD','#AFA3A0'],['Decision tree','#EAD2B8','#CDB69C']];
  models.forEach(function(m,i){
    const y=162+i*90.5;
    rect(1541,y,322,94,m[2],g,'model-card-edge-'+i,{rx:14});
    rect(1541,y+6,322,80,m[1],g,'model-card-'+m[0].toLowerCase().replace(' ','-'),{rx:12});
    txt(m[0],1701,y+47,34,{},g,'model-label');
  });
  path('M1876 166H1890Q1904 166 1904 182V1050Q1904 1066 1890 1066H1876','none',dark,12,g,'model-bracket');
  line(1908,622,1985,622,dark,13,g,'model-arrow-shaft');
  path('M1978 590L2010 622L1978 654Z',dark,null,0,g,'model-arrow-head');
  rect(2020,154,560,549,'none',g,'roc-dashed-box',{rx:18,stroke:'#DDA0B8',sw:6}).setAttribute('stroke-dasharray','26 24');
  const rx=v=>2072+v*473,ry=v=>543-v*372;
  line(2068,171,2068,545,'#111',6,g,'roc-y-axis');
  line(2066,543,2552,543,'#111',6,g,'roc-x-axis');
  line(rx(0),ry(0),rx(1),ry(1),'#bbb',3,g,'roc-diagonal','14 10');
  function rocD(xs,ys){let d='M'+rx(xs[0])+' '+ry(ys[0]);for(let i=1;i<xs.length;i++){d+='H'+rx(xs[i])+'V'+ry(ys[i]);}return d;}
  path(rocD(rocCvX,rocCvY),'none','#F0B37E',6,g,'roc-cv-curve');
  path(rocD(rocTestX,rocTestY),'none','#C96A6E',6,g,'roc-test-curve');
  path(rocD(rocTrainX,rocTrainY),'none','#21A6B5',6,g,'roc-training-curve');
  txt('Sensitivity',2042,355,30,{rot:-90},g,'roc-y-title');
  txt('1 - Specificity',2308,571,30,{},g,'roc-x-title');
  [['Training',426,'#21A6B5'],['Cross-Validation(CV)',465,'#F0B37E'],['Test',505,'#C96A6E']].forEach(function(l){
    line(2257,l[1],2288,l[1],l[2],6,g,'roc-legend-line');
    txt(l[0],2296,l[1],26,{anchor:'start'},g,'roc-legend-label');
  });
  rect(2044,600,510,84,'#EDCBDC',g,'model-score-formula-box',{rx:10,stroke:'#DC9EBD',sw:5});
  txt('Model Score=(',2118,642,25,{italic:true},g,'formula-left');
  txt('CV+Test',2296,620,25,{italic:true},g,'formula-numerator');
  line(2236,640,2360,640,'#222',2,g,'formula-bar');
  txt('2',2296,660,25,{italic:true},g,'formula-denominator');
  txt(')−λ×|CV−Test|',2454,642,26,{italic:true},g,'formula-right');
  rect(2037,718,529,259,'#FDF4EA',g,'auc-box',{rx:14,stroke:'#E2CFBB',sw:5});
  const aucColors=['#F5B14A','#DFC35F','#C2B97A','#6EAF66','#0E9E70','#2F8A62','#2B6E4C'];
  aucBars.forEach(function(v,i){
    const h=v*223,x=2105+i*59.3;
    rect(x,962-h,41,h,aucColors[i],g,'auc-bar',{stroke:'#222',sw:1});
    rect(x,962-h,41,6,'#111',g,'auc-bar-cap');
  });
  line(2103,736,2103,964,'#111',4,g,'auc-y-axis');
  line(2103,962,2528,962,'#111',6,g,'auc-x-axis');
  txt('AUC',2078,852,30,{rot:-90},g,'auc-axis-title');
  path('M2142 979V1037H2190','none',dark,11,g,'best-model-arrow');
  path('M2188 1010L2222 1037L2188 1064Z',dark,null,0,g,'best-model-arrow-head');
  rect(2227,1001,201,75,'#9DBFCB',g,'best-model-box',{rx:20,stroke:dark,sw:6});
  txt('Best model',2327,1039,33,{},g,'best-model-label');
})();

/* ---------- PANEL B ---------- */
(function(){
  const g=group('panel-b-heatmap');
  const x0=2743,y0=45,cw=111.4,ch=71.75;
  heatValues.forEach(function(row,r){
    row.forEach(function(v,c){
      const col=v>=.8?'#FC8F92':(v>=.7?'#FDD49B':'#85A5C4');
      rect(x0+c*cw,y0+r*ch,cw,ch,col,g,'heatmap-cell',{stroke:'rgba(255,255,255,.18)',sw:1});
      txt(v.toFixed(3),x0+(c+.5)*cw,y0+(r+.5)*ch,27,{fill:'#222'},g,'heatmap-value');
    });
  });
  heatCancers.forEach(function(n,i){
    const y=y0+i*3*ch;
    const colors={PRAD:'#B3BAD6',PDAC:'#90CBD3',OC:'#E6B6B3',LC:'#F2D28F',HNSCC:'#9BD1A0',HCC:'#E5A9C8',GC:'#FCB593',ESCC:'#D1CF96',CRC:'#D4B9AF',ccRCC:'#96CABF',BLCA:'#F0CF9F',BC:'#CFB5DC'};
    rect(3315,y,36,3*ch,colors[n],g,'cancer-annotation-'+n.toLowerCase());
    txt(n,3334,y+1.5*ch,29,{rot:-90,fill:'#333'},g,'cancer-annotation-label');
    ['#FF9A92','#EAB2C8','#ACD5E3'].forEach(function(c,j){
      rect(3351,y+j*ch,36,ch,c,g,'metric-annotation');
      txt(heatMetrics[j],3402,y+(j+.38)*ch,24.5,{anchor:'start',rot:45,italic:true,fill:'#777'},g,'metric-label');
    });
  });
  heatTops.forEach(function(t,i){
    txt(t,x0+(i+.5)*cw,2683,29,{rot:-90,fill:'#444'},g,'heatmap-column-label');
  });
})();

/* ---------- PANELS C & E ---------- */
function drawPolar(cfg){
  const g=group(cfg.name);
  const n=cfg.cats.length,step=360/n,cx=cfg.cx,cy=cfg.cy;
  const rv=v=>4+325*v;
  cfg.cats.forEach(function(c,i){
    path(wedgeD(cx,cy,cfg.rIn,cfg.rOut,i*step,(i+1)*step),cancerColor[c],null,0,g,'outer-ring-segment-'+c.toLowerCase(),{op:.95});
  });
  [.4,.6,.8].forEach(function(v){circle(cx,cy,rv(v),'none',g,'radial-grid-line',{stroke:'#ccc',sw:2,dash:'12 10'});});
  circle(cx,cy,rv(1),'none',g,'radial-grid-outer',{stroke:'#aaa',sw:3,dash:'15 10'});
  cfg.vals.forEach(function(v,i){
    const mid=(i+.5)*step,hw=cfg.barWidth/2;
    path(wedgeD(cx,cy,0,rv(v),mid-hw,mid+hw),cancerColor[cfg.cats[i]],'#111',2.8,g,'polar-bar-'+cfg.cats[i].toLowerCase(),{join:'round'});
    const p=pol(cx,cy,rv(v)+17,mid);
    const rot=mid<90?mid:(mid<cfg.flip?mid-180:mid-360);
    txt(cfg.labels[i],p[0],p[1],28,{rot:rot,fill:'#444'},g,'polar-value-label');
    const q=pol(cx,cy,(cfg.rIn+cfg.rOut)/2,mid);
    const rr=(mid>70&&mid<270)?mid-180:(mid>180?mid-360:mid);
    txt(cfg.cats[i],q[0],q[1],32,{rot:rr,bold:true,fill:'#222'},g,'outer-ring-label');
  });
  const a=cfg.tickAngle;
  [['0.4',.4],['0.6',.6],['0.8',.8],['1.0',1]].forEach(function(t){
    const p=pol(cx,cy,rv(t[1]),a);
    txt(t[0],p[0],p[1],25,{fill:'#888'},g,'radial-tick-label');
  });
  hGrad(cfg.name+'-grad',cfg.c1,1,'#ffffff',1);
  circle(cx,cy,66,'url(#'+cfg.name+'-grad)',g,'center-circle',{stroke:'#222',sw:2});
  txt(cfg.center[0],cx,cy-19,33,{bold:true},g,'center-label');
  txt(cfg.center[1],cx,cy+19,33,{bold:true},g,'center-label');
}
drawPolar({name:'panel-c-model-score-polar',cats:polarCatsC,vals:polarValsC,labels:polarValsC.map(v=>v.toFixed(3)),cx:462,cy:1518,rIn:347,rOut:382,barWidth:22,tickAngle:90,center:['Model','Score'],c1:'#9CC8D6',flip:270});
drawPolar({name:'panel-e-test-auc-polar',cats:polarCatsE,vals:polarValsE,labels:polarLabelsE,cx:455,cy:2327,rIn:348,rOut:383,barWidth:20,tickAngle:83,center:['Test','AUC'],c1:'#EBB8A5',flip:260});

/* ---------- PANEL D ---------- */
(function(){
  const g=group('panel-d-nomogram');
  const X=z=>930+z*1.148,Y=z=>1120+z*.51;
  rect(951,1152,1730,738,'none',g,'blca-dashed-frame',{stroke:'#EBC99A',sw:9}).setAttribute('stroke-dasharray','44 43');
  txt('BLCA',1045,1188,38,{bold:true,fill:'#F2D3A8'},g,'blca-title');
  txt('Nomgram',X(518),Y(170),28,{bold:true,italic:true,fill:'#111'},g,'nomogram-title');
  const rowZ=[308,400,491,582,673,765,858,950,1042,1133,1224];
  const rowLayout=[[400,648,425,648],[400,672,404,661],[392,685,397,680],[395,682,394,682],[330,735,330,718],[345,760,381,762],[338,722,338,722],[306,726,306,714],[318,726,320,725],[252,755,252,755],[220,830,221,830]];
  const ptX=v=>X(238+v*5.55);
  txt('Points',X(65),Y(222),23,{anchor:'start',italic:true},g,'points-axis-label');
  line(ptX(0),Y(226),ptX(100),Y(226),'#222',4,g,'points-axis');
  pointsTicks.forEach(function(v){
    line(ptX(v),Y(226),ptX(v),Y(232),'#222',2,g,'points-tick');
    txt(String(v),ptX(v),Y(258),19,{fill:'#333'},g,'points-tick-label');
  });
  nomPointHits.forEach(function(v){circle(ptX(v),Y(226),6,'#B8403F',g,'points-axis-marker');});
  function density(vals,left,right,axisY,h){
    let d='M'+X(left)+' '+axisY;
    vals.forEach(function(v,i){d+='L'+(X(left)+(X(right)-X(left))*i/(vals.length-1))+' '+(axisY-v*h);});
    d+='L'+X(right)+' '+axisY+'Z';
    path(d,'#96D2E1','#1565B0',2.5,g,'density-ridge',{join:'round'});
  }
  nomLabels.forEach(function(l,i){
    const y=Y(rowZ[i]),lay=rowLayout[i],tv=nomTickValues[i];
    txt(l,X(65),y-3,23,{anchor:'start'},g,'nomogram-row-label');
    density(nomDensity[i],lay[0],lay[1],y,34);
    line(X(lay[0]),y,X(lay[1]),y,'#222',3,g,'nomogram-row-axis');
    const v0=tv[0],v1=tv[tv.length-1];
    const map=v=>X(lay[2]+(lay[3]-lay[2])*(v-v0)/(v1-v0));
    tv.forEach(function(v){
      line(map(v),y,map(v),y+3,'#222',1.5,g,'nomogram-tick');
      txt(String(v).replace('-','−').replace(/^0\./,'.').replace(/^−0\./,'−.').replace(/^\./,'0.').replace(/^−\./,'−0.'),map(v),y+13,16,{fill:'#333'},g,'nomogram-tick-label');
    });
    circle(map(nomPatient[i]),y,6,'#B8403F',g,'nomogram-patient-marker');
  });
  txt('Total points',X(66),Y(1330),25,{anchor:'start',bold:true,italic:true},g,'total-points-label');
  density(totalDensity,222,816,Y(1330),30);
  line(X(222),Y(1330),X(816),Y(1330),'#222',3,g,'total-points-axis');
  const tx=v=>X(251+(v-500)*2.82);
  totalTicks.forEach(function(v){
    line(tx(v),Y(1330),tx(v),Y(1338),'#222',1.5,g,'total-points-tick');
    txt(String(v),tx(v),Y(1362),19,{fill:'#333'},g,'total-points-tick-label');
  });
  txt('Pr( metastasis )',X(62),Y(1402),22,{anchor:'start',italic:true},g,'probability-axis-label');
  const px=p=>X(498+62.8*Math.log(p/(1-p)));
  line(px(.015),Y(1402),px(.995),Y(1402),'#222',3,g,'probability-axis');
  prTicks.forEach(function(v){
    line(px(v),Y(1402),px(v),Y(1410),'#222',1.5,g,'probability-tick');
    txt(String(v),px(v),Y(1436),19,{fill:'#333'},g,'probability-tick-label');
  });
  line(X(258),Y(1402),X(395),Y(1402),'#E07070',4,g,'probability-ci');
  line(X(258),Y(1390),X(258),Y(1420),'#E07070',2,g,'probability-ci-cap');
  line(X(395),Y(1390),X(395),Y(1420),'#E07070',2,g,'probability-ci-cap');
  line(tx(526),Y(1330),tx(526),Y(1398),'#B8403F',2.5,g,'prediction-arrow');
  path('M'+(tx(526)-6)+' '+Y(1388)+'L'+tx(526)+' '+Y(1404)+'L'+(tx(526)+6)+' '+Y(1388)+'Z','#B8403F',null,0,g,'prediction-arrow-head');
  circle(tx(526),Y(1330),5,'#B8403F',g,'total-points-marker');
  txt('526',X(326),Y(1306),20,{italic:true,fill:'#D9606A'},g,'total-points-value');
  txt('0.0596',X(295),Y(1388),20,{italic:true,fill:'#D9606A'},g,'probability-value');
  const cg=mk('g',{},g,'calibration-plot',false);
  const cx=v=>X(961+v*507),cy=v=>Y(1212-v*998);
  rect(X(940),Y(173),X(1487)-X(940),Y(1251)-Y(173),'#fff',cg,'calibration-frame',{stroke:'#222',sw:3});
  [0,.2,.4,.6,.8,1].forEach(function(v){
    line(cx(v),Y(1251),cx(v),Y(1272),'#222',2,cg,'calibration-x-tick');
    txt(v.toFixed(1),cx(v),Y(1306),22,{fill:'#333'},cg,'calibration-x-tick-label');
    line(X(940),cy(v),X(925),cy(v),'#222',2,cg,'calibration-y-tick');
    txt(v.toFixed(1),X(915),cy(v),22,{rot:-90,fill:'#333'},cg,'calibration-y-tick-label');
  });
  calRug.forEach(function(v,i){line(cx(v),Y(173),cx(v),Y(173)+calRugLen[i]*2.4,'#222',1.5,cg,'calibration-rug-tick');});
  line(X(942),Y(1250),X(1485),Y(178),'#222',2.5,cg,'apparent-line','10 6');
  const curve=a=>a.map(function(v,i){return (i?'L':'M')+cx(calX[i])+' '+cy(v);}).join('');
  path(curve(calBias),'none','#1A6BA8',5,cg,'bias-corrected-curve');
  path(curve(calIdeal),'none','#F0634F',5,cg,'ideal-curve');
  txt('Observed Probability',X(878),Y(715),24,{rot:-90},cg,'calibration-y-title');
  txt('Prediced Probability',X(1215),Y(1365),24,{},cg,'calibration-x-title');
  [['Apparent',1040,'#222','8 5'],['Bias-corrected',1096,'#1A6BA8',null],['Ideal',1152,'#F0634F',null]].forEach(function(l){
    line(X(1263),Y(l[1]),X(1295),Y(l[1]),l[2],4,cg,'calibration-legend-line',l[3]);
    txt(l[0],X(1306),Y(l[1]),24,{anchor:'start'},cg,'calibration-legend-label');
  });
  txt('B= 1000 repetitions, boot',X(920),Y(1430),19,{anchor:'start'},cg,'calibration-footnote');
  txt('Mean absolute error=0.04 n=233',X(1508),Y(1430),19,{anchor:'end'},cg,'calibration-error-note');
})();

/* ---------- PANEL F ---------- */
(function(){
  const g=group('panel-f-violins');
  const yv=v=>2296-v*180.2;
  const bandW=(2696-955)/12;
  const bands=['#F3EEF7','#FEF4EA','#E9F2EE','#F4EEEA','#F6F4E8','#FFEFE6','#F8EBF4','#EAF3EA','#FEF6E7','#F8EEEE','#E8F4F5','#EEEFF5'];
  violinCancers.forEach(function(c,i){rect(955+i*bandW,1931,bandW,684,bands[i],g,'band-'+c.toLowerCase());});
  line(955,1931,2696,1931,'#444',3,g,'plot-top-border');
  line(955,2615,2696,2615,'#444',4,g,'x-axis-line');
  [2,1,0,-1].forEach(function(v){
    txt(String(v).replace('-','−'),936,yv(v),22,{fill:'#555'},g,'y-tick-label');
    line(948,yv(v),955,yv(v),'#555',2,g,'y-tick');
  });
  txt('GMPS',904,2283,28,{rot:-90},g,'y-axis-title');
  function violin(d,cx,fill,stroke,name){
    const top=d[0],bot=d[1],q3=d[2],q1=d[3],med=(q3+q1)/2;
    const n=violinShape.length,mid=(n-1)/2;
    const vAt=i=>i<=mid?top+(med-top)*i/mid:med+(bot-med)*(i-mid)/mid;
    let L='',R='';
    const hw=24;
    for(let i=0;i<n;i++){L+=(i?'L':'M')+(cx-violinShape[i]*hw)+' '+yv(vAt(i));}
    for(let i=n-1;i>=0;i--){R+='L'+(cx+violinShape[i]*hw)+' '+yv(vAt(i));}
    path(L+R+'Z',fill,stroke,2,g,name+'-violin',{fop:.28});
    violinDotFrac.forEach(function(f,i){
      circle(cx+violinDotOff[i]*hw*.75,yv(top+(bot-top)*f),3.3,stroke,g,name+'-point',{op:.4});
    });
    rect(cx-8,yv(q3),16,yv(q1)-yv(q3),fill,g,name+'-box',{stroke:stroke,sw:2,op:.65});
    line(cx-8,yv(med),cx+8,yv(med),stroke,2,g,name+'-median');
  }
  violinCancers.forEach(function(c,i){
    const cc=955+(i+.5)*bandW,a=cc-30,b=cc+30;
    violin(violinN[i],a,'#A99BC8','#8778B0','non-metastasis-'+c.toLowerCase());
    violin(violinM[i],b,'#F6C07F','#EFA955','metastasis-'+c.toLowerCase());
    const s=violinFitStart[i],e=violinFitEnd[i];
    mk('polygon',{points:[[a,yv(s)-10],[cc,yv((s+e)/2)-5],[b+6,yv(e)-18],[b+6,yv(e)+12],[cc,yv((s+e)/2)+5],[a,yv(s)+10]].map(p=>p.join(',')).join(' '),fill:'#777',opacity:.33},g,'fit-confidence-band',false);
    line(a,yv(s),b,yv(e),'#111',4.5,g,'fit-line','12 8');
    const ns=violinSig[i]==='ns';
    txt(violinSig[i],cc,ns?1960:1967,ns?34:40,{bold:!ns,fill:'#111'},g,'significance-label');
    const ey=yv(violinEqValue[i]);
    txt(violinEq[i],cc,ey,18.5,{italic:true,fill:'#B4283C'},g,'fit-equation');
    txt(violinR2[i],cc,ey+32,18.5,{fill:'#333'},g,'fit-r-squared');
    txt(violinP[i],cc,ey+59,18.5,{italic:true,fill:'#333'},g,'fit-p-value');
    line(cc,2615,cc,2624,'#444',2,g,'x-tick');
    txt(c,cc+4,2632,26,{anchor:'end',rot:-48,italic:true,fill:'#555'},g,'x-tick-label');
  });
  rect(1318,2706,34,26,'#9A8BBD',g,'legend-swatch-non-metastasis',{stroke:'#7b6ca5',sw:2});
  txt('Non-metastasis',1366,2720,25,{anchor:'start'},g,'legend-label-non-metastasis');
  rect(1699,2706,34,26,'#F3B878',g,'legend-swatch-metastasis',{stroke:'#E09A4C',sw:2});
  txt('Metastasis',1747,2720,25,{anchor:'start'},g,'legend-label-metastasis');
})();

/* ---------- PANEL G ---------- */
(function(){
  const g=group('panel-g-umap');
  const umapX=z=>z*.67,umapY=z=>2750+z*.638;
  const tg=hGrad('tregFade','#3A8CB2',1,'#3A8CB2',0,true);
  const midStop=mk('stop',{offset:'55%','stop-color':'#3A8CB2','stop-opacity':.95},tg,'gradient-stop',false);
  tg.insertBefore(midStop,tg.lastChild);
  hGrad('nkFade','#A488BC',0,'#A488BC',.85,true);
  const flt=mk('filter',{id:'roughEdge',x:'-10%',y:'-10%',width:'120%',height:'120%'},defs,'rough-edge-filter',false);
  mk('feTurbulence',{type:'fractalNoise',baseFrequency:'.09',numOctaves:'2',seed:'4',result:'n'},flt,'edge-noise',false);
  mk('feDisplacementMap',{in:'SourceGraphic',in2:'n',scale:'14',xChannelSelector:'R',yChannelSelector:'G'},flt,'edge-displacement',false);
  const blobs=mk('g',{filter:'url(#roughEdge)'},g,'umap-clusters',false);
  function smoothD(pts){
    const n=pts.length;
    const m=(a,b)=>[(umapX(a[0])+umapX(b[0]))/2,(umapY(a[1])+umapY(b[1]))/2];
    let s=m(pts[n-1],pts[0]);
    let d='M'+s[0]+' '+s[1];
    for(let i=0;i<n;i++){
      const e=m(pts[i],pts[(i+1)%n]);
      d+='Q'+umapX(pts[i][0])+' '+umapY(pts[i][1])+' '+e[0]+' '+e[1];
    }
    return d+'Z';
  }
  umapOutlines.forEach(function(o,i){
    const fill=umapClusterFills[i];
    const solid=fill.charAt(0)==='#';
    const p=path(smoothD(o),fill,solid?fill:null,12,blobs,'umap-cluster-'+umapClusterNames[i],{join:'round'});
    if(umapClusterNames[i]==='macrophage-m1')p.setAttribute('opacity','.5');
    if(umapClusterNames[i]==='macrophage-scatter')p.setAttribute('opacity','.6');
  });
  umapDotsX.forEach(function(x,i){
    circle(umapX(x),umapY(umapDotsY[i]),4.5,umapDotsColor[i],g,'umap-scatter-point',{op:.8});
  });
  line(umapX(880),umapY(190),umapX(905),umapY(270),'#7DB5A8',5,g,'mast-strand');
  line(umapX(965),umapY(215),umapX(1070),umapY(315),'#7DB5A8',5,g,'mast-strand');
  line(umapX(830),umapY(180),umapX(837),umapY(222),'#7DB5A8',5,g,'mast-strand');
  mk('ellipse',{cx:umapX(845),cy:umapY(1300),rx:6,ry:14,fill:'#555'},g,'b-cell-dark-spot',false);
  mk('ellipse',{cx:umapX(1040),cy:umapY(550),rx:16,ry:8,fill:'#1F7F62'},g,'neutrophil-satellite',false);
  const labelX=[817,587,820,455,690,1160,1411,1358,1307,1230,705,733,310];
  const labelY=[126,435,557,676,930,692,731,870,1028,1170,1165,1358,1278];
  const labelColor=['#7DB5A8','#3F91B5','#1F6EA5','#94C5DA','#A488BC','#A3D98F','#1F7F62','#FB8A8A','#5A3A28','#B5866A','#FF8A45','#FFAA78','#EEE5AD'];
  const labelBorder=[0,0,1,0,0,1,1,0,1,1,1,0,0];
  umapLabels.forEach(function(l,i){
    const w=l.length*14.6+22,h=38;
    rect(umapX(labelX[i])-w/2,umapY(labelY[i])-h/2,w,h,'#fff',g,'cluster-label-box',{rx:5,stroke:labelBorder[i]?labelColor[i]:'#fff',sw:2.5});
    txt(l,umapX(labelX[i]),umapY(labelY[i]),27,{bold:true,fill:labelColor[i]},g,'cluster-label');
  });
  path('M92 3710H325','none','#111',5,g,'umap1-axis');
  path('M92 3712V3490','none','#111',5,g,'umap2-axis');
  path('M76 3498L93 3470L110 3498Z','#111',null,0,g,'umap2-arrow');
  path('M320 3693L348 3710L320 3727Z','#111',null,0,g,'umap1-arrow');
  txt('UMAP2',63,3605,27,{rot:-90},g,'umap2-label');
  txt('UMAP1',208,3742,27,{},g,'umap1-label');
})();

/* ---------- PANEL H ---------- */
(function(){
  const g=group('panel-h-pie-matrix');
  const X=z=>1040+z*.829,Y=z=>2750+z*.542;
  const colX=i=>X(312)+i*53.05,rowY=i=>Y(229)+i*53.05;
  rect(1268,2843,647,700,'#fff',g,'pie-matrix-frame',{stroke:'#444',sw:4});
  for(let c=0;c<12;c++)line(colX(c)+26.5,2847,colX(c)+26.5,3539,'#ddd',1.5,g,'grid-line');
  for(let r=0;r<13;r++)line(1272,rowY(r)+26.5,1911,rowY(r)+26.5,'#ddd',1.5,g,'grid-line');
  hRows.forEach(function(name,r){
    txt(name,X(262),rowY(r)-4,24,{anchor:'end',fill:'#555'},g,'pie-row-label');
    hCols.forEach(function(col,c){
      const cx=colX(c),cy=rowY(r);
      circle(cx,cy,24.5,'#F5ECE8',g,'pie-background');
      const o=hMeta[r][c]*360,p=hNon[r][c]*360;
      if(o>0)path(wedgeD(cx,cy,0,24,90,90+o),'#EFB87C',null,0,g,'pie-slice-metastasis');
      if(p>0)path(wedgeD(cx,cy,0,24,90+o,90+o+p),'#A495C2',null,0,g,'pie-slice-non-metastasis');
      circle(cx,cy,24.5,'none',g,'pie-outline',{stroke:'#333',sw:2});
      if(hStars[r][c])txt(hStars[r][c],cx,cy+16,30,{bold:true,fill:'#111'},g,'pie-significance');
    });
  });
  hCols.forEach(function(c,i){txt(c,colX(i)-8,2832,24,{anchor:'start',rot:-46,italic:true,fill:'#666'},g,'pie-column-label');});
  const bx=v=>X(1062)+v*147;
  hRatio.forEach(function(v,r){
    rect(bx(0),rowY(r)-20,bx(v)-bx(0),40,r<7?'#F8D393':'#B9AFCC',g,'ratio-bar',{stroke:'#444',sw:2});
  });
  line(1915,2843,2139,2843,'#444',3,g,'ratio-axis');
  hRatioTicks.forEach(function(v){
    const tx=X(1068)+v*146;
    txt(v.toFixed(1),tx-6,2821,22,{anchor:'start',rot:-46,fill:'#666'},g,'ratio-tick-label');
  });
  txt('radio',X(1187),Y(66),25,{bold:true,italic:true},g,'ratio-title');
  [[607,'#F9D59A','Metastasis enriched'],[672,'#BDB3D0','Non-metastasis enriched'],[797,'#EFBC82','Metastasis'],[862,'#A79AC0','Non-metastasis']].forEach(function(l){
    rect(X(1138),Y(l[0]),28,29,l[1],g,'legend-swatch');
    txt(l[2],X(1188),Y(l[0]+27),25,{anchor:'start'},g,'legend-label');
  });
})();

/* ---------- PANEL I ---------- */
(function(){
  const g=group('panel-i-sunburst');
  const cx=414,cy=4177;
  let a=0;
  iCancers.forEach(function(c,i){
    const w=iShare[i],col=cancerColor[c];
    path(wedgeD(cx,cy,0,188,a,a+w),col,null,0,g,'pie-sector-'+c.toLowerCase(),{op:.55});
    path(wedgeD(cx,cy,198,234,a,a+w),col,null,0,g,'cancer-ring-'+c.toLowerCase());
    path(wedgeD(cx,cy,188,198,a,a+w),col,null,0,g,'pale-ring-'+c.toLowerCase(),{op:.18});
    const m=iMiddleLowShare[i],o=iOuterLowShare[i];
    path(wedgeD(cx,cy,236,285,a,a+m),'#8DC496','#fff',2,g,'non-metastasis-low-mps');
    path(wedgeD(cx,cy,236,285,a+m,a+w),'#EFB285','#fff',2,g,'non-metastasis-high-mps');
    path(wedgeD(cx,cy,287,337,a,a+o),'#8DC496','#fff',2,g,'metastasis-low-mps');
    path(wedgeD(cx,cy,287,337,a+o,a+w),'#EFB285','#fff',2,g,'metastasis-high-mps');
    a+=w;
  });
  const X=z=>z*.606,Y=z=>3700+z*.596;
  const labelPos=[[735,595],[808,630],[878,655],[930,798],[812,940],[752,1018],[682,1047],[597,998],[503,938],[482,805],[488,700],[580,573]];
  a=0;
  iCancers.forEach(function(c,i){
    const mid=a+iShare[i]/2;a+=iShare[i];
    const rot=(c==='GC')?90:(mid<180?mid-90:mid-270);
    const t=txt(c,X(labelPos[i][0]),Y(labelPos[i][1]),34,{rot:rot,fill:'#333'},g,'cancer-sector-label');
    t.setAttribute('stroke','#333');
    t.setAttribute('stroke-width','.8');
  });
  rect(790,4115,28,26,'#EFB285',g,'legend-swatch-high-mps');
  txt('High-MPS',831,4128,27,{anchor:'start'},g,'legend-label-high-mps');
  rect(790,4150,28,27,'#8DC496',g,'legend-swatch-low-mps');
  txt('Low-MPS',831,4164,27,{anchor:'start'},g,'legend-label-low-mps');
  const lx=624,ly=4562;
  const S=(r0,r1,a0,a1,c,n)=>path(wedgeD(lx,ly,r0,r1,a0,a1),c,'#fff',1.5,g,n);
  S(0,127,60,90,'#D3D9E8','key-cancer-type-sector');
  S(132,156,60,90,'#AAB8D2','key-cancer-ring');
  S(158,190,60,76,'#8DC496','key-non-metastasis-low');
  S(158,190,76,90,'#EFB285','key-non-metastasis-high');
  S(192,224,62,67,'#8DC496','key-metastasis-low');
  S(192,224,67,90,'#EFB285','key-metastasis-high');
  txt('CancerType',663,4525,22,{rot:-30},g,'key-cancer-type-label');
  txt('Non-',753,4441,22,{rot:-30},g,'key-non-metastasis-label');
  txt('Metastasis',767,4463,22,{rot:-30},g,'key-non-metastasis-label');
  txt('Metastasis',832,4582,22,{},g,'key-metastasis-label');
})();

/* ---------- PANEL J ---------- */
(function(){
  const g=group('panel-j-pie-matrix');
  const X=z=>900+z*.893,Y=z=>3560+z*.685;
  const colX=i=>X(225)+i*53.6,rowY=i=>Y(375)+i*53.72;
  const by=v=>Y(322)-v*118.5*.685*10;
  line(X(188),Y(12),X(188),Y(325),'#444',3,g,'ratio-y-axis');
  [0,.1,.2].forEach(function(v){
    txt(v.toFixed(1),X(180),by(v),22,{anchor:'end',fill:'#666'},g,'ratio-tick-label');
  });
  txt('radio',X(128),Y(172),25,{bold:true,italic:true,rot:-90},g,'ratio-title');
  jRatio.forEach(function(v,i){
    rect(colX(i)-20,by(v),40,Y(322)-by(v),i<13?'#FFC098':'#A8D1AF',g,'ratio-bar',{stroke:'#333',sw:2});
  });
  rect(1070,3785,1189,657,'#fff',g,'pie-matrix-frame',{stroke:'#444',sw:4});
  for(let i=0;i<22;i++)line(colX(i)+26.8,3790,colX(i)+26.8,4438,'#ddd',1.5,g,'grid-line');
  for(let r=0;r<12;r++)line(1075,rowY(r)+26.8,2255,rowY(r)+26.8,'#ddd',1.5,g,'grid-line');
  jRows.forEach(function(name,r){
    txt(name,X(180),rowY(r),21,{anchor:'end',fill:'#666'},g,'pie-row-label');
    jCols.forEach(function(c,i){
      const cx=colX(i),cy=rowY(r);
      circle(cx,cy,24.5,'#F5ECE8',g,'pie-background');
      const o=jHigh[r][i]*3.6,l=jLow[r][i]*3.6;
      path(wedgeD(cx,cy,0,24,0,o),'#F0B182',null,0,g,'pie-slice-high-mps');
      path(wedgeD(cx,cy,0,24,o,o+l),'#88C392',null,0,g,'pie-slice-low-mps');
      circle(cx,cy,24.5,'none',g,'pie-outline',{stroke:'#333',sw:2});
    });
  });
  jStars.forEach(function(s,k){
    txt(s[1],colX(s[0]),rowY(jStarRow[k])+15,31,{bold:true,fill:'#111'},g,'pie-significance');
  });
  jCols.forEach(function(c,i){
    line(colX(i),4442,colX(i),4450,'#444',2,g,'x-tick');
    txt(c,colX(i)+6,4460,21,{anchor:'end',rot:-36,italic:true,fill:'#666'},g,'pie-column-label');
  });
  [[590,88,'#FFC8A2','High-MPS enriched',640],[590,140,'#AFD4B6','Low-MPS enriched',640],[965,88,'#F0B182','High-MPS',1012],[965,140,'#88C392','Low-MPS',1012]].forEach(function(l){
    rect(X(l[0]),Y(l[1]),30,30,l[2],g,'legend-swatch');
    txt(l[3],X(l[4]),Y(l[1]+22),25,{anchor:'start'},g,'legend-label');
  });
})();

/* ---------- PANELS K & L ---------- */
function stepD(ts,vs,xf,yf){
  let d='M'+xf(ts[0])+' '+yf(vs[0]);
  for(let i=1;i<ts.length;i++){d+='H'+xf(ts[i])+'V'+yf(vs[i]);}
  return d;
}
function ribbonD(ts,up,lo,xf,yf){
  let d=stepD(ts,up,xf,yf);
  for(let i=ts.length-1;i>=0;i--){d+='V'+yf(lo[i]);if(i>0)d+='H'+xf(ts[i-1]);}
  return d+'Z';
}
function valueAt(ts,vs,t){let v=vs[0];for(let i=0;i<ts.length;i++){if(ts[i]<=t)v=vs[i];}return v;}
function drawKM(c){
  const g=group(c.name);
  const X=z=>2280+z*.795,Y=z=>c.oy+z*c.sy;
  rect(2383,c.fy0,1112,c.fy1-c.fy0,'none',g,'dashed-frame',{stroke:c.frame,sw:7}).setAttribute('stroke-dasharray','38 38');
  txt(c.tag,c.tagX,c.tagY,40,{bold:true,fill:c.tagColor},g,'panel-tag');
  txt(c.var,X(c.varX),Y(c.varY),28,{anchor:'start'},g,'variable-title');
  txt('Strata',X(c.legX),Y(c.legY),26,{anchor:'start'},g,'legend-title');
  rect(X(c.legX+106),Y(c.legY-32),38,38,'#F9E3BC',g,'legend-swatch-high');
  line(X(c.legX+106)+3,Y(c.legY),X(c.legX+106)+35,Y(c.legY),'#EFAC00',5,g,'legend-line-high');
  line(X(c.legX+106)+19,Y(c.legY)-11,X(c.legX+106)+19,Y(c.legY)+11,'#EFAC00',3,g,'legend-mark-high');
  txt(c.var+'=High',X(c.legX+163),Y(c.legY),24,{anchor:'start'},g,'legend-label-high');
  rect(X(c.legBlue),Y(c.legY-32),38,38,'#BBD5EE',g,'legend-swatch-low');
  line(X(c.legBlue)+3,Y(c.legY),X(c.legBlue)+35,Y(c.legY),'#0098CC',5,g,'legend-line-low');
  line(X(c.legBlue)+19,Y(c.legY)-11,X(c.legBlue)+19,Y(c.legY)+11,'#0098CC',3,g,'legend-mark-low');
  txt(c.var+'=Low',X(c.legBlue+57),Y(c.legY),24,{anchor:'start'},g,'legend-label-low');
  const xf=t=>X(307+t*c.k),yf=s=>Y(c.y0-s*(c.y0-c.y1));
  const bx0=X(250),bx1=X(1490),by0=Y(c.boxT),by1=Y(c.boxB);
  rect(bx0,by0,bx1-bx0,by1-by0,'#fff',g,'survival-plot-frame',{stroke:'#bbb',sw:3});
  c.ticks.forEach(function(t){
    line(xf(t),by0,xf(t),by1,'#ececec',2,g,'survival-grid-vertical');
    txt(String(t),xf(t),by1+15,17,{fill:'#666'},g,'survival-x-tick-label');
  });
  [1,.75,.5,.25,0].forEach(function(s){
    line(bx0,yf(s),bx1,yf(s),'#ececec',2,g,'survival-grid-horizontal');
    txt(s.toFixed(2),bx0-7,yf(s),17,{anchor:'end',fill:'#666'},g,'survival-y-tick-label');
  });
  path(ribbonD(c.lrt,c.lu,c.ll,xf,yf),'#2E86D0',null,0,g,'ci-ribbon-low',{op:.27});
  path(ribbonD(c.hrt,c.hu,c.hl,xf,yf),'#EFAC00',null,0,g,'ci-ribbon-high',{op:.23});
  path(stepD(c.ht,c.hs,xf,yf),'none','#EFAC00',c.lw,g,'survival-curve-high');
  path(stepD(c.lt,c.ls,xf,yf),'none','#0098CC',c.lw,g,'survival-curve-low');
  c.hc.forEach(function(t){
    const y=yf(valueAt(c.ht,c.hs,t));
    path('M'+xf(t)+' '+(y-8)+'V'+(y+8)+'M'+(xf(t)-5)+' '+y+'H'+(xf(t)+5),'none','#EFAC00',2.5,g,'censor-mark-high');
  });
  c.lc.forEach(function(t){
    const y=yf(valueAt(c.lt,c.ls,t));
    path('M'+xf(t)+' '+(y-8)+'V'+(y+8)+'M'+(xf(t)-5)+' '+y+'H'+(xf(t)+5),'none','#0098CC',2.5,g,'censor-mark-low');
  });
  txt('p < 0.001',X(c.pX),Y(c.pY),26,{anchor:'start'},g,'p-value');
  txt('Survival probability',X(172),Y(c.survMid),23,{rot:-90},g,'survival-y-title');
  txt('Time in months',X(872),Y(c.timeY),24,{},g,'survival-x-title');
  txt('Number at risk',X(377),Y(c.riskTitle),23.5,{anchor:'start'},g,'risk-table-title');
  rect(X(377),Y(c.riskT),X(1490)-X(377),Y(c.riskB)-Y(c.riskT),'#fff',g,'risk-table-frame',{stroke:'#bbb',sw:3});
  const rowsY=[c.riskR1,c.riskR2];
  [c.riskHigh,c.riskLow].forEach(function(arr,r){
    line(X(377),Y(rowsY[r]),X(1490),Y(rowsY[r]),'#ececec',2,g,'risk-grid');
    arr.forEach(function(v,i){txt(String(v),X(c.riskX[i]),Y(rowsY[r]),23,{},g,'risk-count');});
  });
  txt(c.var+'=High',X(360),Y(rowsY[0]),17,{anchor:'end',fill:'#EFB020'},g,'risk-label-high');
  txt(c.var+'=Low',X(360),Y(rowsY[1]),17,{anchor:'end',fill:'#1CA8DC'},g,'risk-label-low');
  txt('Strata',X(218),Y(c.strataMid),22,{rot:-90},g,'risk-y-title');
  c.ticks.forEach(function(t,i){txt(String(t),X(c.riskTick[i]),Y(c.riskTickY),17,{fill:'#666'},g,'risk-x-tick-label');});
  txt('Time in months',X(935),Y(c.riskTimeY),24,{},g,'risk-x-title');
  const cxf=t=>X(c.cz0+t*c.ck),cyf=n=>Y(c.cy0-n*c.cyk);
  txt('Number of censoring',X(c.cx0),Y(c.cTitle),23.5,{anchor:'start'},g,'censor-title');
  rect(X(c.cx0),Y(c.cT),X(1490)-X(c.cx0),Y(c.cB)-Y(c.cT),'#fff',g,'censor-plot-frame',{stroke:'#bbb',sw:3});
  if(c.cBand)rect(X(c.cx0),Y(c.cBand),X(1490)-X(c.cx0),Y(c.cB)-Y(c.cBand),'#e6e6e6',g,'censor-low-band');
  c.ticks.forEach(function(t){
    line(cxf(t),Y(c.cT),cxf(t),Y(c.cB),'#ececec',2,g,'censor-grid');
    txt(String(t),cxf(t),Y(c.cTickY),17,{fill:'#666'},g,'censor-x-tick-label');
  });
  c.cYT.forEach(function(n,i){
    txt(String(n),X(c.cx0-8),Y(c.cYZ[i]),17,{anchor:'end',fill:'#666'},g,'censor-y-tick-label');
  });
  c.cht.forEach(function(t,i){line(cxf(t),cyf(0),cxf(t),cyf(c.chn[i]),'#EFB020',2.5,g,'censor-bar-high');});
  c.clt.forEach(function(t,i){line(cxf(t),cyf(0),cxf(t),cyf(c.cln[i]),'#0098CC',c.cw,g,'censor-bar-low');});
  txt('n.censor',X(172),Y(c.cMid),22,{rot:-90},g,'censor-y-title');
  txt('Time in months',X(c.cTimeX),Y(c.cTimeY),24,{},g,'censor-x-title');
}
drawKM({name:'panel-k-blca-survival',oy:2750,sy:.606,fy0:2765,fy1:3637,frame:'#EBC99A',tag:'BLCA',tagX:2478,tagY:2805,tagColor:'#F2D3A8',var:'MPS',varX:248,varY:165,legX:587,legY:212,legBlue:922,k:7.05,y0:650,y1:290,boxT:272,boxB:667,ticks:[0,40,80,120,160],lw:6,
 lt:kmKLowT,ls:kmKLowS,lrt:kmKLowT,lu:kmKLowU,ll:kmKLowL,ht:kmKHighT,hs:kmKHighS,hrt:kmKHighT,hu:kmKHighU,hl:kmKHighL,lc:kmKLowCens,hc:kmKHighCens,pX:332,pY:578,survMid:470,timeY:725,
 riskTitle:792,riskT:828,riskB:1002,riskR1:877,riskR2:955,riskHigh:[99,13,5,2,1],riskLow:[134,23,6,3,2],riskX:[427,680,933,1186,1439],riskTick:[427,680,933,1188,1441],riskTickY:1025,riskTimeY:1058,strataMid:915,
 cz0:291,ck:7.15,cy0:1326,cyk:13,cx0:235,cTitle:1125,cT:1162,cB:1335,cTickY:1358,cYT:[12,7,2,0],cYZ:[1170,1235,1300,1326],clt:censKLowT,cln:censKLowN,cht:censKHighT,chn:censKHighN,cw:3,cMid:1245,cTimeX:863,cTimeY:1392});
drawKM({name:'panel-l-all-survival',oy:3700,sy:.596,fy0:3700,fy1:4575,frame:'#BDB6C8',tag:'All',tagX:2438,tagY:3738,tagColor:'#BDB6C8',var:'GMPS',varX:230,varY:158,legX:562,legY:205,legBlue:920,k:3.76,y0:652,y1:287,boxT:270,boxB:670,ticks:[0,100,200,300],lw:8,
 lt:kmLLowT,ls:kmLLowS,lrt:kmLLowCiT,lu:kmLLowU,ll:kmLLowL,ht:kmLHighT,hs:kmLHighS,hrt:kmLHighCiT,hu:kmLHighU,hl:kmLHighL,lc:kmLLowCens,hc:kmLHighCens,pX:328,pY:577,survMid:468,timeY:730,
 riskTitle:797,riskT:835,riskB:1015,riskR1:884,riskR2:966,riskHigh:[1353,47,3,0],riskLow:[1637,83,4,0],riskX:[430,765,1101,1439],riskTick:[427,765,1102,1441],riskTickY:1037,riskTimeY:1072,strataMid:925,
 cz0:281,ck:3.84,cy0:1353,cyk:2.33,cx0:225,cTitle:1140,cT:1180,cB:1354,cBand:1335,cTickY:1380,cYT:[73,65,5,0],cYZ:[1183,1207,1332,1353],clt:censLLowT,cln:censLLowN,cht:censLHighT,chn:censLHighN,cw:4,cMid:1265,cTimeX:858,cTimeY:1415});
</script>
</body>
</html>
